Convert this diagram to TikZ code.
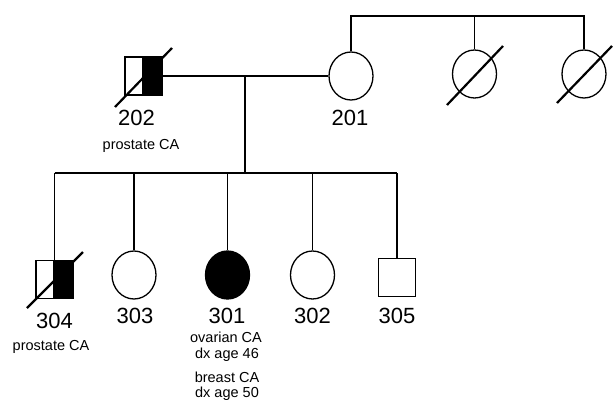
\documentclass[tikz,border=0pt]{standalone}
\usepackage{fontspec}
\setmainfont{Liberation Sans}
\usetikzlibrary{shapes.geometric,calc}
\begin{document}
\begin{tikzpicture}[x=1pt,y=-1pt,
  line width=1.3pt,
  female/.style={draw,ellipse,minimum width=44pt,minimum height=48pt,inner sep=0pt},
  male/.style={draw,rectangle,minimum width=37pt,minimum height=38pt,inner sep=0pt},
  num/.style={anchor=base,inner sep=0pt,font=\fontsize{22}{26}\selectfont},
  note/.style={anchor=base,inner sep=0pt,font=\fontsize{14.5}{17}\selectfont},
  slash/.style={line width=2.2pt}]
\useasboundingbox (0,0) rectangle (613,401);
% generation 2 and siblings of 201
\node[male] (m202) at (143.5,76) {};
\fill ($(m202.north)+(-2,0)$) rectangle (m202.south east);
\node[male] at (143.5,76) {};
\node[female] (f201) at (351,76) {};
\node[female] (fs1) at (474.5,74) {};
\node[female] (fs2) at (584,74) {};
\coordinate (top1) at (351,16);
\coordinate (top2) at (474.5,16);
\coordinate (top3) at (584,16);
\draw (f201.north) -- (top1) -- (top3) -- (fs2.north);
\draw (top2) -- (fs1.north);
\draw[slash] ($(m202)+(-28.5,31)$) -- ($(m202)+(28.5,-28)$);
\draw[slash] ($(fs1)+(-27.5,31)$) -- ($(fs1)+(28.5,-28)$);
\draw[slash] ($(fs2)+(-27,29)$) -- ($(fs2)+(28,-28)$);
% mating line
\draw (m202.east) -- (f201.west);
\coordinate (mate) at (245,76);
\coordinate (sib) at (245,173);
\draw (mate) -- (sib);
% generation 3
\node[male] (m304) at (54.5,279.5) {};
\fill ($(m304.north)+(-2,0)$) rectangle (m304.south east);
\node[male] at (54.5,279.5) {};
\node[female] (f303) at (134,275) {};
\node[female,fill=black] (f301) at (227.5,275) {};
\node[female] (f302) at (312.5,275) {};
\node[male] (m305) at (397,277.5) {};
\coordinate (s304) at (54.5,173);
\coordinate (s303) at (134,173);
\coordinate (s301) at (227.5,173);
\coordinate (s302) at (312.5,173);
\coordinate (s305) at (397,173);
\draw (s304) -- (s305);
\draw (s304) -- (m304.north);
\draw (s303) -- (f303.north);
\draw (s301) -- (f301.north);
\draw (s302) -- (f302.north);
\draw (s305) -- (m305.north);
\draw[slash] ($(m304)+(-27.5,28.5)$) -- ($(m304)+(28.5,-27.5)$);
% labels
\node[num] (l202) at (136.5,126) {202};
\node[num] (l201) at (350,126) {201};
\node[note] (n202) at (141,149.5) {prostate CA};
\node[num] (l304) at (54.5,328) {304};
\node[num] (l303) at (135,323) {303};
\node[num] (l301) at (227,323) {301};
\node[num] (l302) at (312.5,323) {302};
\node[num] (l305) at (397,323) {305};
\node[note] (n304) at (51,350) {prostate CA};
\node[note] (n301a) at (226,342) {ovarian CA};
\node[note] (n301b) at (227,358.5) {dx age 46};
\node[note] (n301c) at (227,382) {breast CA};
\node[note] (n301d) at (227,397) {dx age 50};
\end{tikzpicture}
\end{document}
